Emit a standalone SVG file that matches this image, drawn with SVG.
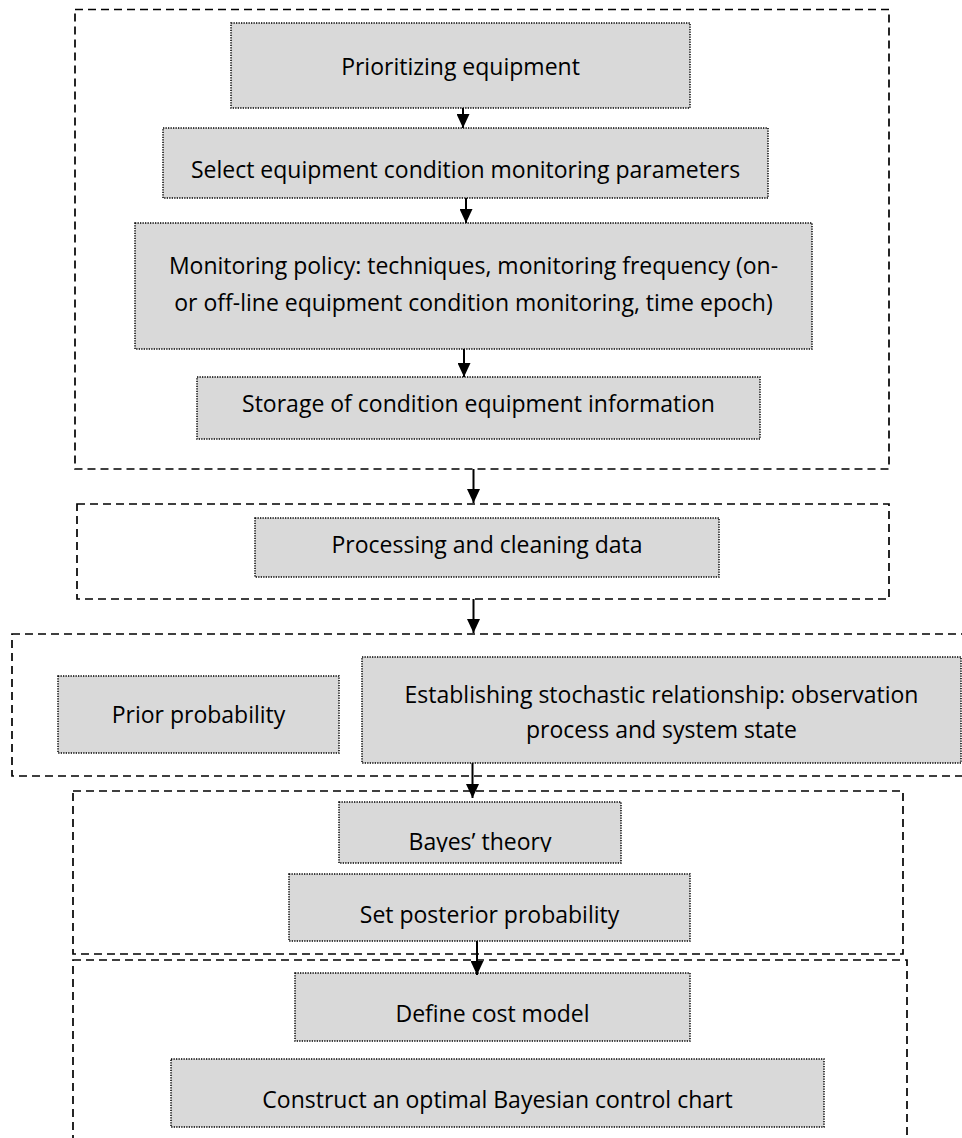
<svg xmlns="http://www.w3.org/2000/svg" width="962" height="1138" viewBox="0 0 962 1138">
  <style>
    .grp { fill: none; stroke: #000; stroke-width: 1.7; stroke-dasharray: 8 5; }
    .box { fill: #d9d9d9; stroke: #000; stroke-width: 1.5; stroke-dasharray: 1.3 1.2; }
    .lbl { font-family: "Open Sans", "Liberation Sans", sans-serif; font-size: 23px; fill: #000; text-anchor: middle; }
    .arr { stroke: #000; stroke-width: 2; fill: none; marker-end: url(#ah); }
  </style>
  <defs>
    <marker id="ah" markerUnits="userSpaceOnUse" markerWidth="14" markerHeight="13" refX="14" refY="6.5" orient="auto" viewBox="0 0 14 13">
      <path d="M0,0 L14,6.5 L0,13 z" fill="#000"/>
    </marker>
    <clipPath id="clipBayes">
      <rect x="339" y="802" width="282" height="50"/>
    </clipPath>
  </defs>
  <rect width="962" height="1138" fill="#fff"/>

  <g id="groups">
    <rect id="group1" class="grp" x="75" y="9.5" width="814" height="459.5"/>
    <rect id="group2" class="grp" x="77" y="504" width="812" height="95"/>
    <rect id="group3" class="grp" x="12" y="634" width="970" height="142"/>
    <rect id="group4" class="grp" x="73" y="791" width="830" height="163"/>
    <rect id="group5" class="grp" x="73" y="960" width="834" height="200"/>
  </g>

  <g id="n1">
    <rect class="box" x="231" y="23" width="459" height="85"/>
    <text class="lbl" x="460.5" y="75">Prioritizing equipment</text>
  </g>
  <g id="n2">
    <rect class="box" x="163" y="128" width="605" height="70"/>
    <text class="lbl" x="465.5" y="178">Select equipment condition monitoring parameters</text>
  </g>
  <g id="n3">
    <rect class="box" x="135" y="223" width="677" height="126"/>
    <text class="lbl" x="473.5" y="274">Monitoring policy: techniques, monitoring frequency (on-</text>
    <text class="lbl" x="473.5" y="311">or off-line equipment condition monitoring, time epoch)</text>
  </g>
  <g id="n4">
    <rect class="box" x="197" y="377" width="563" height="62"/>
    <text class="lbl" x="478.5" y="412">Storage of condition equipment information</text>
  </g>
  <g id="n5">
    <rect class="box" x="255" y="518" width="464" height="59"/>
    <text class="lbl" x="487" y="553">Processing and cleaning data</text>
  </g>
  <g id="n6">
    <rect class="box" x="58" y="676" width="281" height="77"/>
    <text class="lbl" x="198.5" y="723">Prior probability</text>
  </g>
  <g id="n7">
    <rect class="box" x="362" y="657" width="599" height="106"/>
    <text class="lbl" x="661.5" y="703">Establishing stochastic relationship: observation</text>
    <text class="lbl" x="661.5" y="738">process and system state</text>
  </g>
  <g id="n8">
    <rect class="box" x="339" y="802" width="282" height="61"/>
    <text class="lbl" x="480" y="850" clip-path="url(#clipBayes)">Bayes’ theory</text>
  </g>
  <g id="n9">
    <rect class="box" x="289" y="874" width="401" height="67"/>
    <text class="lbl" x="489.5" y="923">Set posterior probability</text>
  </g>
  <g id="n10">
    <rect class="box" x="295" y="973" width="395" height="68"/>
    <text class="lbl" x="492.5" y="1022">Define cost model</text>
  </g>
  <g id="n11">
    <rect class="box" x="171" y="1059" width="653" height="68"/>
    <text class="lbl" x="497.5" y="1108">Construct an optimal Bayesian control chart</text>
  </g>

  <g id="connectors">
    <line class="arr" x1="463" y1="108" x2="463" y2="128"/>
    <line class="arr" x1="466" y1="198" x2="466" y2="223"/>
    <line class="arr" x1="464" y1="349" x2="464" y2="377"/>
    <line class="arr" x1="473.5" y1="469" x2="473.5" y2="503"/>
    <line class="arr" x1="473.5" y1="599" x2="473.5" y2="633"/>
    <line class="arr" x1="472.5" y1="763" x2="472.5" y2="798"/>
    <line class="arr" x1="477" y1="941" x2="477" y2="975"/>
  </g>
</svg>
